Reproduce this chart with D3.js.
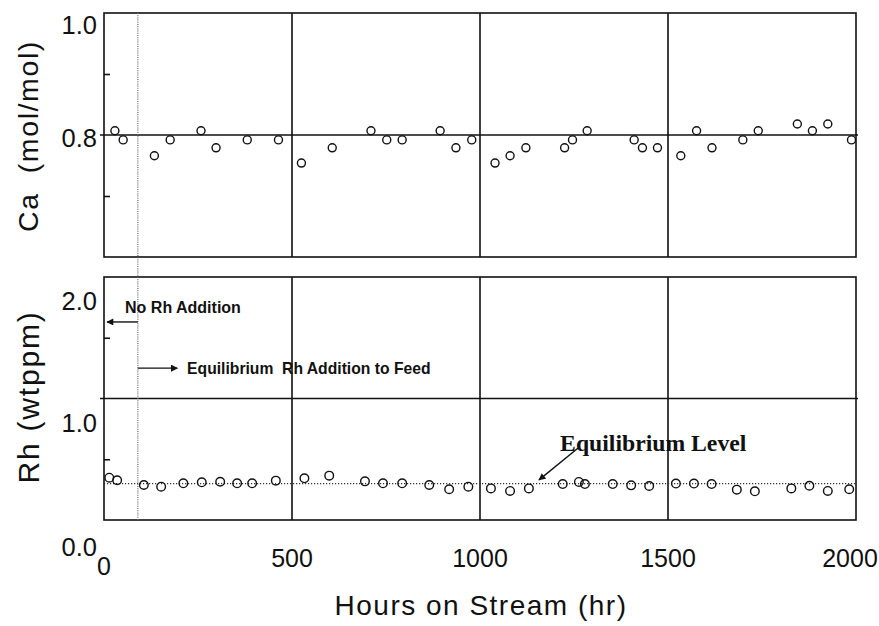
<!DOCTYPE html>
<html>
<head>
<meta charset="utf-8">
<script src="https://cdn.jsdelivr.net/npm/d3@7"></script>
<style>
  body { margin: 0; background: #fff; }
  svg { display: block; }
</style>
</head>
<body>
<div id="chart"></div>
<script>
// hours on stream, Ca ratio (top panel)
const caHours = [29, 51, 134, 176, 258, 298, 381, 464, 525, 607, 710, 752, 793, 894, 936, 978,
	1040, 1080, 1122, 1225, 1246, 1285, 1410, 1432, 1472, 1534, 1576, 1617, 1699, 1740, 1844, 1884, 1925, 1988];
const caValues = [0.807, 0.792, 0.766, 0.792, 0.807, 0.779, 0.792, 0.792, 0.754, 0.779, 0.807, 0.792, 0.792, 0.807, 0.779, 0.792,
	0.754, 0.766, 0.779, 0.779, 0.792, 0.807, 0.792, 0.779, 0.779, 0.766, 0.807, 0.779, 0.792, 0.807, 0.818, 0.807, 0.818, 0.792];

// hours on stream, Rh wtppm (bottom panel)
const rhHours = [14, 35, 106, 152, 211, 260, 309, 354, 394, 457, 533, 599, 694, 742, 793, 865, 918, 969,
	1029, 1080, 1130, 1220, 1263, 1279, 1353, 1402, 1450, 1521, 1569, 1616, 1683, 1731, 1828, 1876, 1925, 1982];
const rhValues = [0.348, 0.327, 0.288, 0.274, 0.302, 0.31, 0.315, 0.302, 0.302, 0.324, 0.343, 0.365, 0.318, 0.302, 0.302, 0.288, 0.253, 0.274,
	0.26, 0.239, 0.26, 0.296, 0.313, 0.296, 0.296, 0.285, 0.28, 0.3, 0.3, 0.296, 0.25, 0.236, 0.26, 0.282, 0.239, 0.253];

const xTicks = [0, 500, 1000, 1500, 2000];
const xGrid = [500, 1000, 1500];
const caLabelTicks = [0.8, 1.0];
const caMinorTicks = [0.7, 0.9];
const rhLabelTicks = [0, 1, 2];
const rhMinorTicks = [0.5, 1.5];
const caReference = 0.8;
const rhReference = 1.0;
const rhEquilibrium = 0.3;
const rhStartHour = 90;

const width = 879;
const height = 626;
const sans = '"Liberation Sans", Arial, sans-serif';

const svg = d3.select('#chart')
	.append('svg')
	.attr('width', width)
	.attr('height', height);

svg.append('rect')
	.attr('width', width)
	.attr('height', height)
	.attr('fill', '#fff');

const x = d3.scaleLinear().domain([0, 2000]).range([104, 856]);
const yCa = d3.scaleLinear().domain([0.6, 1.0]).range([257, 13]);
const yRh = d3.scaleLinear().domain([0, 2]).range([520, 277]);

function panel (y, refValue, labelTicks, minorTicks, labelShift) {
	const g = svg.append('g');

	// vertical grid lines
	g.selectAll('.grid')
		.data(xGrid)
		.enter()
		.append('line')
		.attr('x1', (d) => x(d))
		.attr('x2', (d) => x(d))
		.attr('y1', y.range()[0])
		.attr('y2', y.range()[1])
		.attr('stroke', '#111')
		.attr('stroke-width', 1.6);

	// reference line
	g.append('line')
		.attr('x1', x.range()[0] - 4)
		.attr('x2', x.range()[1] + 2)
		.attr('y1', y(refValue))
		.attr('y2', y(refValue))
		.attr('stroke', '#111')
		.attr('stroke-width', 1.6);

	// frame
	g.append('rect')
		.attr('x', x.range()[0])
		.attr('y', y.range()[1])
		.attr('width', x.range()[1] - x.range()[0])
		.attr('height', y.range()[0] - y.range()[1])
		.attr('fill', 'none')
		.attr('stroke', '#111')
		.attr('stroke-width', 1.6);

	// inner minor ticks
	const minor = g.append('g')
		.attr('transform', `translate(${x.range()[0]},0)`)
		.call(d3.axisLeft(y).tickValues(minorTicks).tickSize(-6).tickFormat(''));
	minor.select('.domain').remove();
	minor.selectAll('line').attr('stroke', '#111').attr('stroke-width', 1.6);

	// labels
	const lab = g.append('g')
		.attr('transform', `translate(${x.range()[0] - 4},0)`)
		.call(d3.axisLeft(y).tickValues(labelTicks).tickSize(0).tickFormat(d3.format('.1f')));
	lab.select('.domain').remove();
	lab.selectAll('text')
		.attr('font-family', sans)
		.attr('font-size', 25.5)
		.attr('fill', '#111')
		.attr('dy', (d, i) => `${0.32 + labelShift[i] / 25}em`);

	return g;
}

panel(yCa, caReference, caLabelTicks, caMinorTicks, [3, 12]);
const rhPanel = panel(yRh, rhReference, rhLabelTicks, rhMinorTicks, [27, 24, 24]);

// equilibrium dotted level
rhPanel.append('line')
	.attr('x1', x(0))
	.attr('x2', x(2000))
	.attr('y1', yRh(rhEquilibrium))
	.attr('y2', yRh(rhEquilibrium))
	.attr('stroke', '#333')
	.attr('stroke-width', 1.2)
	.attr('stroke-dasharray', '1.2,1.8');

// start of Rh addition
svg.append('line')
	.attr('x1', x(rhStartHour))
	.attr('x2', x(rhStartHour))
	.attr('y1', yCa(1.0))
	.attr('y2', yRh(0))
	.attr('stroke', '#666')
	.attr('stroke-width', 1.2)
	.attr('stroke-dasharray', '1,1.2');

// points
svg.append('g')
	.selectAll('circle')
	.data(caHours.map((h, i) => [h, caValues[i]]))
	.enter()
	.append('circle')
	.attr('cx', (d) => x(d[0]))
	.attr('cy', (d) => yCa(d[1]))
	.attr('r', 4)
	.attr('fill', '#fff')
	.attr('stroke', '#111')
	.attr('stroke-width', 1.4);

svg.append('g')
	.selectAll('circle')
	.data(rhHours.map((h, i) => [h, rhValues[i]]))
	.enter()
	.append('circle')
	.attr('cx', (d) => x(d[0]))
	.attr('cy', (d) => yRh(d[1]))
	.attr('r', 4.3)
	.attr('fill', 'none')
	.attr('stroke', '#111')
	.attr('stroke-width', 1.4);

// x tick labels
svg.append('g')
	.selectAll('text')
	.data(xTicks)
	.enter()
	.append('text')
	.attr('x', (d) => x(d))
	.attr('dx', (d) => d === 2000 ? -6 : 0)
	.attr('y', (d) => d === 0 ? 575 : 567)
	.attr('text-anchor', 'middle')
	.attr('font-family', sans)
	.attr('font-size', 25)
	.attr('fill', '#111')
	.text((d) => d);

// axis titles
svg.append('text')
	.attr('x', 481)
	.attr('y', 615)
	.attr('text-anchor', 'middle')
	.attr('font-family', sans)
	.attr('font-size', 28)
	.attr('letter-spacing', 1.5)
	.attr('fill', '#111')
	.text('Hours on Stream (hr)');

svg.append('text')
	.attr('transform', 'translate(38,136) rotate(-90)')
	.attr('text-anchor', 'middle')
	.attr('font-family', sans)
	.attr('font-size', 28.5)
	.attr('letter-spacing', 1.6)
	.attr('fill', '#111')
	.style('white-space', 'pre')
	.text('Ca  (mol/mol)');

svg.append('text')
	.attr('transform', 'translate(39,397) rotate(-90)')
	.attr('text-anchor', 'middle')
	.attr('font-family', sans)
	.attr('font-size', 30)
	.attr('letter-spacing', 1.8)
	.attr('fill', '#111')
	.text('Rh (wtppm)');

// annotations
const defs = svg.append('defs');
defs.append('marker')
	.attr('id', 'head')
	.attr('viewBox', '0 0 10 10')
	.attr('refX', 9)
	.attr('refY', 5)
	.attr('markerWidth', 9)
	.attr('markerHeight', 7)
	.attr('markerUnits', 'userSpaceOnUse')
	.attr('orient', 'auto')
	.append('path')
	.attr('d', 'M0,0L10,5L0,10Z')
	.attr('fill', '#111');

const arrows = [
	{ from: [rhStartHour, 1.63], to: [8, 1.63] },
	{ from: [rhStartHour, 1.25], to: [195, 1.25] },
	{ from: [1261, 0.593], to: [1157, 0.33] }
];

svg.append('g')
	.selectAll('line')
	.data(arrows)
	.enter()
	.append('line')
	.attr('x1', (d) => x(d.from[0]))
	.attr('y1', (d) => yRh(d.from[1]))
	.attr('x2', (d) => x(d.to[0]))
	.attr('y2', (d) => yRh(d.to[1]))
	.attr('stroke', '#111')
	.attr('stroke-width', 1.4)
	.attr('marker-end', 'url(#head)');

svg.append('text')
	.attr('x', x(56))
	.attr('y', yRh(1.75))
	.attr('dy', '0.35em')
	.attr('font-family', sans)
	.attr('font-weight', 'bold')
	.attr('font-size', 16)
	.attr('fill', '#111')
	.text('No Rh Addition');

svg.append('text')
	.attr('x', x(221))
	.attr('y', yRh(1.25))
	.attr('dy', '0.35em')
	.attr('font-family', sans)
	.attr('font-weight', 'bold')
	.attr('font-size', 15.7)
	.attr('fill', '#111')
	.style('white-space', 'pre')
	.text('Equilibrium  Rh Addition to Feed');

svg.append('text')
	.attr('x', x(1213))
	.attr('y', yRh(0.634))
	.attr('dy', '0.35em')
	.attr('font-family', '"Liberation Serif", "Times New Roman", serif')
	.attr('font-weight', 'bold')
	.attr('font-size', 23.7)
	.attr('fill', '#111')
	.text('Equilibrium Level');
</script>
</body>
</html>
